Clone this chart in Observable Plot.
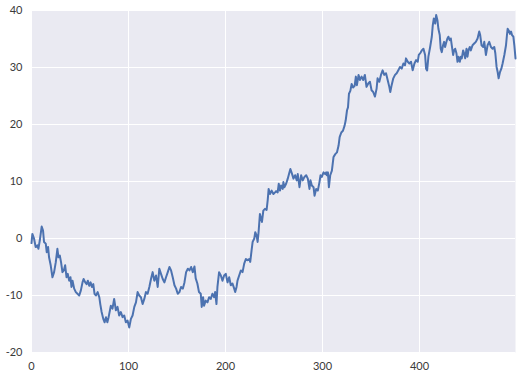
<!DOCTYPE html>
<html><head><meta charset="utf-8">
<script src="https://cdn.jsdelivr.net/npm/d3@7"></script>
<script src="https://cdn.jsdelivr.net/npm/@observablehq/plot@0.6"></script>
<style>body{margin:0;background:#fff}</style>
</head><body><div id="chart"></div>
<script>
const steps = [
0,0.9,2.6,4.3,6.0,7.1,8.5,10.5,11.9,12.9,14.7,15.7,17.1,18.1,19.8,21.6,23.3,25.0,26.7,27.8,29.2,30.5,31.9,33.3,34.7,36.1,37.4,38.8,40.2,41.2,42.3,44.0,45.7,47.4,49.2,50.9,52.6,53.7,55.4,56.8,58.1,59.5,60.9,62.3,63.7,65.0,66.4,68.2,69.9,70.9,72.3,74.0,75.4,76.8,78.2,79.5,
81.8,83.5,85.2,87.0,88.7,90.4,92.1,93.9,95.6,97.3,99.0,100.8,102.5,104.2,106.0,107.7,109.4,111.1,112.8,114.6,116.3,118.0,119.7,121.5,123.2,124.9,126.6,128.4,130.1,131.8,133.5,135.3,137.0,138.7,140.5,142.2,143.9,145.6,147.4,149.1,150.8,152.5,154.2,156.0,157.7,159.4,161.2,162.9,164.6,166.3,168.0,
169.3,171.0,172.7,174.5,175.5,176.9,177.9,179.6,181.4,183.1,184.8,186.5,188.3,189.3,190.7,191.7,193.4,195.2,196.9,198.6,200.3,202.1,203.8,205.5,207.2,209.0,210.0,211.4,212.4,214.1,215.9,217.6,219.3,221.0,222.8,224.5,225.5,226.9,228.0,229.7,230.7,232.1,233.1,234.1,235.5,236.6,237.6,239.0,240.7,242.4,243.5,244.5,245.9,247.6,249.4,251.1,
252.1,253.8,254.9,256.2,257.3,259.0,259.7,260.7,262.5,264.2,265.9,266.9,268.7,270.1,271.8,273.5,274.5,276.3,278.0,279.7,281.4,283.2,284.9,286.6,287.6,289.0,290.8,291.8,293.5,295.2,296.9,298.0,299.3,301.1,302.8,303.8,304.5,305.6,306.6,308.0,309.7,311.4,313.2,314.9,316.6,317.7,319.4,321.1,322.8,323.9,325.3,326.3,327.3,328.7,330.1,331.5,333.2,
334.4,335.5,337.2,338.6,340.3,342.0,343.7,345.4,347.2,348.9,350.6,352.3,354.1,355.8,356.8,358.6,360.3,362.0,363.7,365.5,367.2,368.9,369.9,371.3,373.0,374.8,376.5,378.2,379.9,381.7,383.4,385.1,386.1,387.9,389.6,391.3,393.0,394.8,396.5,398.2,399.3,400.7,402.4,404.1,405.8,406.8,407.9,409.2,411.0,412.7,413.7,414.8,416.2,417.2,
418.5,419.5,420.9,421.9,423.0,424.3,425.4,426.4,427.8,428.8,429.8,431.2,432.3,433.3,434.7,435.7,436.8,438.1,439.2,440.2,441.6,442.6,443.6,445.0,446.0,447.1,448.5,449.5,450.5,451.9,452.9,454.7,456.4,458.1,459.9,461.6,462.6,464.0,465.7,466.8,468.5,470.2,471.9,473.7,475.4,477.1,478.2,479.5,480.6,481.6,483.0,484.4,485.7,487.5,489.2,490.2,490.9,492.0,493.3,494.4,495.4,496.8,497.8,499
];
const values = [
-0.8,0.8,0.0,-1.5,-1.2,-1.8,-0.4,2.1,1.4,-0.6,-0.9,-2.4,-1.5,-3.3,-4.7,-6.8,-5.9,-4.2,-1.8,-3.3,-3.0,-4.2,-5.9,-5.6,-4.7,-6.8,-6.2,-7.4,-6.8,-8.5,-7.4,-8.8,-9.4,-9.7,-10.0,-9.1,-7.7,-7.1,-7.7,-8.0,-7.4,-8.3,-7.7,-8.5,-8.0,-9.7,-10.0,-9.4,-10.3,-11.5,-12.9,-14.1,-14.7,-13.8,-14.7,-13.8,
-11.8,-12.3,-10.6,-12.6,-12.0,-13.5,-12.9,-13.8,-13.5,-14.7,-14.4,-15.6,-14.1,-13.5,-12.0,-11.2,-9.4,-10.0,-10.3,-11.5,-10.6,-9.4,-9.7,-8.5,-7.1,-5.9,-7.4,-6.5,-8.5,-5.3,-6.2,-7.1,-7.7,-6.8,-5.9,-5.0,-5.6,-6.8,-8.2,-8.8,-9.7,-9.4,-8.5,-8.8,-7.7,-5.9,-5.3,-5.6,-5.0,-5.9,-4.9,
-7.0,-7.9,-9.4,-9.7,-12.0,-10.3,-11.8,-10.9,-11.2,-10.3,-10.6,-9.7,-10.3,-9.4,-11.5,-8.5,-5.9,-6.5,-7.4,-6.5,-6.2,-7.7,-6.8,-8.2,-7.9,-8.8,-9.4,-8.5,-7.4,-6.5,-5.6,-5.9,-4.4,-3.6,-3.8,-3.6,-4.1,-2.1,-0.6,0.0,1.1,0.5,-0.6,1.1,4.3,3.5,2.9,4.9,5.2,5.0,6.7,8.7,7.8,8.4,7.8,8.1,
8.3,8.1,9.6,8.4,9.3,8.7,9.9,9.0,9.6,10.5,11.6,12.2,11.3,10.5,11.1,10.2,11.3,9.0,11.1,10.2,10.8,11.1,10.5,8.7,10.2,9.3,9.0,7.5,8.7,8.4,9.9,11.1,10.8,11.6,11.3,11.6,11.1,11.6,9.0,11.1,11.9,14.3,14.8,15.1,16.3,17.8,18.6,18.9,19.8,20.7,22.5,23.0,25.4,25.9,27.1,26.5,26.8,
28.4,26.9,28.7,27.8,28.4,27.8,28.7,26.6,27.2,27.5,26.0,25.7,24.9,26.3,28.1,27.5,28.7,29.5,28.7,29.0,27.8,26.6,25.7,26.9,28.1,28.7,29.0,29.5,30.1,29.8,30.7,30.4,31.6,31.0,30.7,31.0,29.5,30.7,31.3,31.0,32.2,32.5,33.0,33.3,32.2,29.8,29.5,31.9,33.6,35.4,37.4,38.6,37.7,39.2,
38.3,36.8,35.7,33.3,32.7,33.9,34.5,33.6,34.5,35.1,35.4,34.8,35.1,33.9,32.2,33.0,33.3,32.5,31.0,31.9,31.0,31.9,31.6,33.0,32.5,31.6,33.3,31.9,33.0,33.6,33.0,33.9,34.2,34.5,35.1,36.3,35.7,33.9,33.6,34.5,32.2,33.9,34.5,33.6,33.3,33.6,32.5,30.1,29.2,28.1,29.2,29.8,30.7,32.2,33.9,35.7,36.8,36.5,35.9,36.3,35.7,35.4,33.9,31.6
];
const xTicks = [0, 100, 200, 300, 400];
const yTicks = [-20, -10, 0, 10, 20, 30, 40];
const data = steps.map((s, i) => ({step: s, value: values[i]}));
const chart = Plot.plot({
  width: 527, height: 377,
  marginLeft: 31, marginRight: 12, marginTop: 10, marginBottom: 25,
  style: {fontFamily: "Lato", fontSize: "11px", color: "#3a3a3a", background: "#fff"},
  x: {domain: [0, 499], label: null},
  y: {domain: [-20, 40], label: null},
  marks: [
    Plot.frame({fill: "#EAEAF2", stroke: "none"}),
    Plot.gridX(xTicks, {stroke: "white", strokeOpacity: 1, strokeWidth: 1}),
    Plot.gridY(yTicks, {stroke: "white", strokeOpacity: 1, strokeWidth: 1}),
    Plot.line(data, {x: "step", y: "value", stroke: "#4C72B0", strokeWidth: 2}),
    Plot.axisX(xTicks, {tickSize: 0, tickPadding: 10, tickFormat: d => String(d), label: null}),
    Plot.axisY(yTicks, {tickSize: 0, tickPadding: 9, tickFormat: d => String(d), label: null})
  ]
});
document.getElementById("chart").appendChild(chart);
</script>
</body></html>
